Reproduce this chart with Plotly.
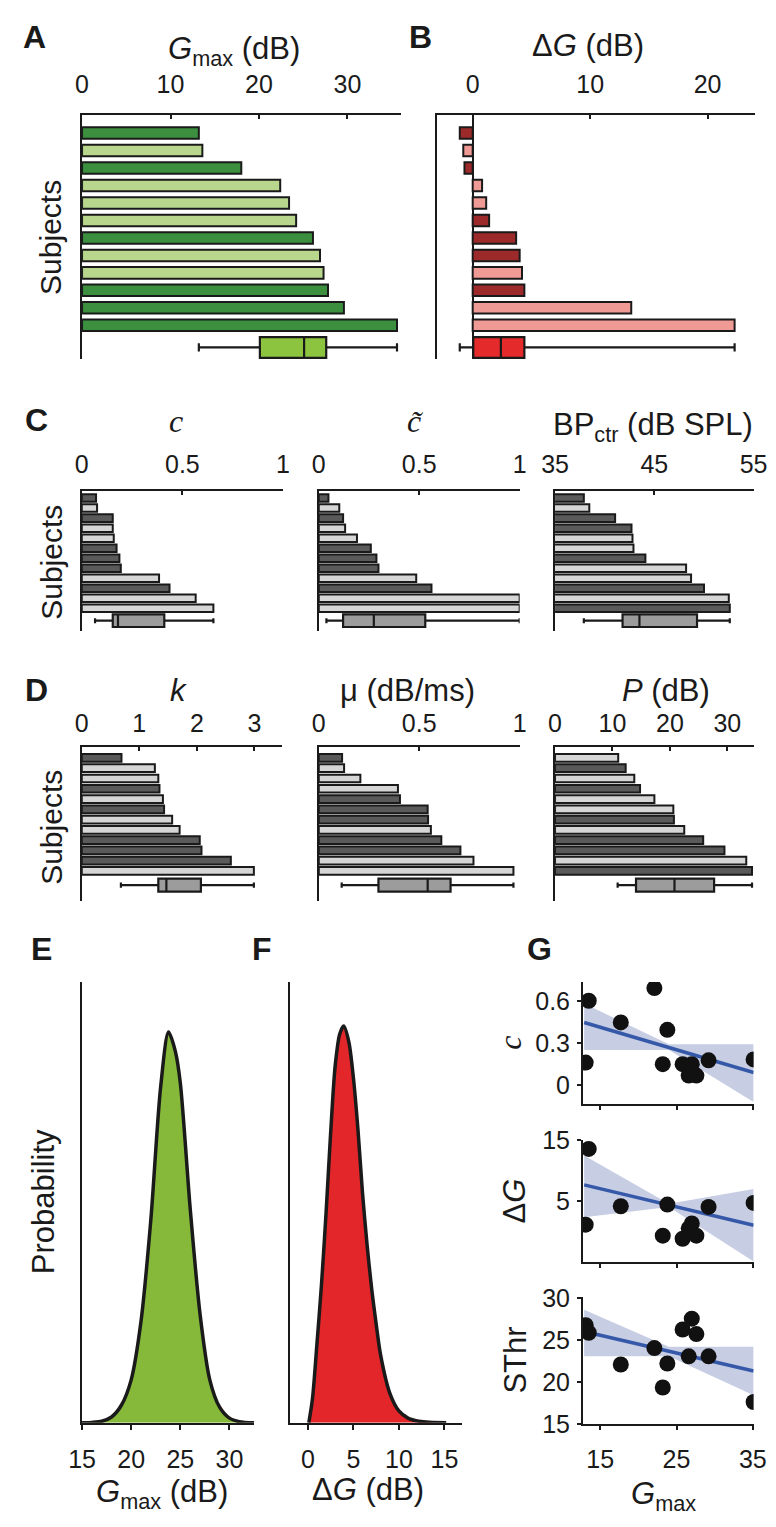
import plotly.graph_objects as go

W, H = 776, 1527

# ---------------- data ----------------
rows = list(range(1, 13))

# A: Gmax (dB) per subject, 1 = dark bar
gmax = [13.2, 13.6, 18.0, 22.4, 23.4, 24.2, 26.1, 26.9, 27.3, 27.8, 29.6, 35.6]
gmax_dark = [1, 0, 1, 0, 0, 0, 1, 0, 0, 1, 1, 1]
gmax_box = [13.2, 20.1, 25.1, 27.6, 35.6]   # lo, q1, median, q3, hi

# B: delta G (dB)
dg = [-1.1, -0.8, -0.7, 0.8, 1.15, 1.4, 3.7, 4.0, 4.2, 4.4, 13.5, 22.3]
dg_dark = [1, 0, 1, 0, 0, 1, 1, 1, 0, 1, 0, 0]
dg_box = [-1.1, 0.05, 2.4, 4.4, 22.3]

# C
c_vals = [0.071, 0.076, 0.154, 0.154, 0.159, 0.173, 0.187, 0.194, 0.384, 0.436, 0.566, 0.654]
c_dark = [1, 0, 1, 0, 0, 1, 1, 1, 0, 1, 0, 0]
c_box = [0.066, 0.154, 0.18, 0.41, 0.654]

ct_vals = [0.048, 0.102, 0.121, 0.131, 0.19, 0.259, 0.287, 0.297, 0.485, 0.561, 1.0, 1.0]
ct_dark = [1, 0, 1, 0, 0, 1, 1, 1, 0, 1, 0, 0]
ct_box = [0.038, 0.121, 0.274, 0.53, 1.0]

bp_vals = [37.9, 38.45, 41.05, 42.7, 42.8, 42.9, 44.1, 48.2, 48.7, 50.0, 52.5, 52.6]
bp_dark = [1, 0, 1, 1, 0, 0, 1, 0, 0, 1, 0, 1]
bp_box = [37.9, 41.8, 43.5, 49.3, 52.6]

# D
k_vals = [0.69, 1.27, 1.33, 1.35, 1.41, 1.43, 1.57, 1.70, 2.05, 2.08, 2.59, 2.99]
k_dark = [1, 0, 0, 1, 0, 1, 0, 0, 1, 1, 1, 0]
k_box = [0.68, 1.33, 1.47, 2.07, 2.99]

mu_vals = [0.116, 0.126, 0.207, 0.394, 0.404, 0.542, 0.544, 0.558, 0.61, 0.705, 0.77, 0.969]
mu_dark = [1, 0, 0, 0, 1, 1, 1, 0, 1, 1, 0, 0]
mu_box = [0.114, 0.297, 0.542, 0.656, 0.969]

p_vals = [11.0, 12.3, 13.8, 14.8, 17.3, 20.6, 20.7, 22.5, 25.8, 29.5, 33.3, 34.3]
p_dark = [0, 1, 0, 1, 0, 0, 1, 0, 1, 1, 0, 1]
p_box = [10.9, 14.1, 20.8, 27.7, 34.3]

# E / F: posterior curves (relative probability)
e_x = [15, 16, 17, 18, 19, 20, 21, 22, 23, 23.8, 24.5, 25, 26, 27, 28, 29, 30, 31, 32.5]
e_y = [0.0, 0.001, 0.004, 0.015, 0.045, 0.11, 0.26, 0.52, 0.86, 1.0, 0.95, 0.87, 0.55, 0.28,
       0.11, 0.04, 0.012, 0.003, 0.0]
f_x = [0.1, 0.5, 1.0, 1.5, 2.0, 2.5, 3.0, 3.5, 3.94, 4.5, 5.0, 5.5, 6.0, 6.5, 7.0, 7.5, 8.0,
       9.0, 10.0, 11.0, 12.0, 13.0, 15.2]
f_y = [0.0, 0.06, 0.2, 0.35, 0.53, 0.73, 0.9, 0.98, 1.0, 0.96, 0.87, 0.74, 0.58, 0.45, 0.34,
       0.25, 0.17, 0.075, 0.03, 0.012, 0.005, 0.002, 0.0]

# G: correlations against Gmax
g_x = [13.1, 13.5, 17.7, 22.1, 23.2, 23.8, 25.8, 26.6, 27.0, 27.6, 29.2, 35.1]
g_c = [0.16, 0.60, 0.446, 0.69, 0.149, 0.393, 0.149, 0.068, 0.149, 0.068, 0.176, 0.183]
g_dg = [1.2, 13.56, 4.2, 22.3, -0.6, 4.47, -1.1, 0.6, 1.4, -0.6, 4.1, 4.74]
g_sthr = [26.76, 25.86, 22.07, 24.03, 19.33, 22.19, 26.25, 23.05, 27.54, 25.7, 23.05, 17.6]

fit_x = [12.9, 35.1]
fit_c = [0.445, 0.09]
fit_dg = [7.7, 1.1]
fit_sthr = [26.0, 21.3]

band_x = [12.9, 24.0, 35.1]
band_c_lo = [0.25, 0.25, -0.12]
band_c_hi = [0.58, 0.29, 0.29]
band_dg_lo = [2.4, 4.1, -4.8]
band_dg_hi = [12.5, 4.6, 7.0]
band_sthr_lo = [23.05, 23.05, 18.4]
band_sthr_hi = [28.6, 24.2, 24.2]

# ---------------- styling ----------------
INK = "#1a1a1a"
SANS = "Liberation Sans, Arial, Helvetica, sans-serif"
SERIF = "Liberation Serif, DejaVu Serif, serif"
TICKF = dict(family=SANS, size=25, color=INK)


def dom_x(a, b):
    return [a / W, b / W]


def dom_y(top, bottom):
    return [1 - bottom / H, 1 - top / H]


fig = go.Figure()
axes = {}


def bar_panel(n, vals, dark, box, cols, xdom, ydom, xrng, yrng, tv, tt,
              bar_w, box_row, box_w, zero=False, standoff=6):
    xa, ya = f"x{n}", f"y{n}"
    fig.add_trace(go.Bar(
        x=vals, y=rows, orientation="h", width=bar_w,
        marker=dict(color=[cols[0] if d else cols[1] for d in dark],
                    line=dict(color=INK, width=2)),
        xaxis=xa, yaxis=ya, hoverinfo="skip", showlegend=False))
    fig.add_trace(go.Box(
        y=[box_row], lowerfence=[box[0]], q1=[box[1]], median=[box[2]],
        q3=[box[3]], upperfence=[box[4]], orientation="h", width=box_w,
        whiskerwidth=0.4, fillcolor=cols[2], line=dict(color=INK, width=2.2),
        boxpoints=False, xaxis=xa, yaxis=ya, hoverinfo="skip", showlegend=False))
    axes[f"xaxis{n}"] = dict(
        domain=dom_x(*xdom), range=xrng, side="top", anchor=ya,
        showline=True, linecolor=INK, linewidth=2, ticks="inside", ticklen=4,
        tickcolor=INK, tickwidth=1.5, tickvals=tv, ticktext=tt, tickfont=TICKF,
        showgrid=False, zeroline=zero, zerolinecolor=INK, zerolinewidth=2,
        ticklabelstandoff=standoff)
    axes[f"yaxis{n}"] = dict(
        domain=dom_y(*ydom), range=yrng, anchor=xa, showline=True,
        linecolor=INK, linewidth=2, showticklabels=False, ticks="",
        showgrid=False, zeroline=False)


green = ("#3b8f3f", "#b8d78c", "#8cc43f")
red = ("#9c2a2a", "#f09a95", "#e42a2a")
grey = ("#5a5a5a", "#d6d6d6", "#9c9c9c")

# A, B
bar_panel(1, gmax, gmax_dark, gmax_box, green, (62.3, 392.7), (95, 343.3),
          [0, 36.0], [13.93, -0.02], [0, 10, 20, 30], ["0", "10", "20", "30"],
          0.66, 13.27, 1.18, standoff=10)
bar_panel(2, dg, dg_dark, dg_box, red, (431, 760), (95, 343.3),
          [-3.0, 24.0], [13.93, -0.02], [0, 10, 20], ["0", "10", "20"],
          0.66, 13.27, 1.18, zero=True, standoff=10)

# C
cy = (477.3, 620)
cr = [14.24, 0.245]
bar_panel(3, c_vals, c_dark, c_box, grey, (62, 270.8), cy, [0, 1], cr,
          [0, 0.5, 1], ["0", "0.5", "1"], 0.75, 13.25, 1.25)
bar_panel(4, ct_vals, ct_dark, ct_box, grey, (307.9, 516.3), cy, [0, 1], cr,
          [0, 0.5, 1], ["0", "0.5", "1"], 0.75, 13.25, 1.25)
bar_panel(5, bp_vals, bp_dark, bp_box, grey, (553, 759), cy, [35, 55], cr,
          [35, 45, 55], ["35", "45", "55"], 0.75, 13.25, 1.25)

# D
dy = (738.3, 895)
dr = [14.89, -0.09]
bar_panel(6, k_vals, k_dark, k_box, grey, (62, 269.8), dy, [0, 3.48], dr,
          [0, 1, 2, 3], ["0", "1", "2", "3"], 0.75, 13.39, 1.27, standoff=3)
bar_panel(7, mu_vals, mu_dark, mu_box, grey, (307.9, 516.3), dy, [0, 1], dr,
          [0, 0.5, 1], ["0", "0.5", "1"], 0.75, 13.39, 1.27, standoff=3)
bar_panel(8, p_vals, p_dark, p_box, grey, (553, 759.9), dy, [0, 34.73], dr,
          [0, 10, 20, 30], ["0", "10", "20", "30"], 0.75, 13.39, 1.27, standoff=3)


# E, F
def density_panel(n, xs, ys, fill, xdom, xrng, yrng, tv):
    xa, ya = f"x{n}", f"y{n}"
    fig.add_trace(go.Scatter(
        x=xs, y=ys, mode="lines", fill="tozeroy", fillcolor=fill,
        line=dict(color=INK, width=3.5, shape="spline", smoothing=0.8),
        xaxis=xa, yaxis=ya, hoverinfo="skip", showlegend=False))
    axes[f"xaxis{n}"] = dict(
        domain=dom_x(*xdom), range=xrng, anchor=ya, showline=True,
        linecolor=INK, linewidth=2, ticks="outside", ticklen=5, tickwidth=1.5,
        tickcolor=INK, tickvals=tv, tickfont=TICKF, showgrid=False,
        zeroline=False, ticklabelstandoff=8)
    axes[f"yaxis{n}"] = dict(
        domain=dom_y(978, 1427), range=yrng, anchor=xa, showline=True,
        linecolor=INK, linewidth=2, showticklabels=False, ticks="",
        showgrid=False, zeroline=False)


density_panel(9, e_x, e_y, "#86b93a", (62.3, 240.7), [15, 32.5], [0, 1.128],
              [15, 20, 25, 30])
density_panel(10, f_x, f_y, "#e2262a", (277.7, 456.7), [-2.0, 16.96], [0, 1.111],
              [0, 5, 10, 15])


# G
def corr_panel(n, ys, fit, lo, hi, ydom, yrng, ytv, ytt, last):
    xa, ya = f"x{n}", f"y{n}"
    fig.add_trace(go.Scatter(x=band_x, y=lo, mode="lines", line=dict(width=0),
                             xaxis=xa, yaxis=ya, hoverinfo="skip", showlegend=False))
    fig.add_trace(go.Scatter(x=band_x, y=hi, mode="lines", line=dict(width=0),
                             fill="tonexty", fillcolor="#c7cee4",
                             xaxis=xa, yaxis=ya, hoverinfo="skip", showlegend=False))
    fig.add_trace(go.Scatter(x=fit_x, y=fit, mode="lines",
                             line=dict(color="#3559a8", width=3.5),
                             xaxis=xa, yaxis=ya, hoverinfo="skip", showlegend=False))
    fig.add_trace(go.Scatter(x=g_x, y=ys, mode="markers",
                             marker=dict(color="#111111", size=16),
                             xaxis=xa, yaxis=ya, hoverinfo="skip", showlegend=False))
    axes[f"xaxis{n}"] = dict(
        domain=dom_x(582, 759), range=[12.75, 35.1], anchor=ya, showline=True,
        linecolor=INK, linewidth=2, ticks="outside", ticklen=4, tickwidth=1.5,
        tickcolor=INK, tickvals=[15, 25, 35], showticklabels=last,
        tickfont=dict(family=SANS, size=25, color=INK), showgrid=False,
        zeroline=False, ticklabelstandoff=8)
    axes[f"yaxis{n}"] = dict(
        domain=dom_y(*ydom), range=yrng, anchor=xa, showline=True,
        linecolor=INK, linewidth=2, ticks="outside", ticklen=4, tickwidth=1.5,
        tickcolor=INK, tickvals=ytv, ticktext=ytt, tickfont=TICKF,
        showgrid=False, zeroline=False, ticklabelstandoff=2)


corr_panel(11, g_c, fit_c, band_c_lo, band_c_hi, (978, 1102), [-0.133, 0.733],
           [0, 0.3, 0.6], ["0", "0.3", "0.6"], False)
corr_panel(12, g_dg, fit_dg, band_dg_lo, band_dg_hi, (1139, 1263), [-4.87, 15.0],
           [-5, 5, 15], ["-5", "5", "15"], False)
corr_panel(13, g_sthr, fit_sthr, band_sthr_lo, band_sthr_hi, (1299, 1428),
           [15.0, 30.1], [15, 20, 25, 30], ["15", "20", "25", "30"], True)

# ---------------- text ----------------
ann = []


def txt(x, y, s, size=31, family=SANS, angle=0, bold=False):
    if bold:
        s = f"<b>{s}</b>"
    ann.append(dict(x=x / W, y=1 - y / H, xref="paper", yref="paper", text=s,
                    showarrow=False, textangle=angle, xanchor="center",
                    yanchor="middle", font=dict(family=family, size=size, color=INK)))


for lab, (x, y) in {"A": (13, 15), "B": (413, 15), "C": (15, 405), "D": (15, 680),
                    "E": (20, 944), "F": (249, 944), "G": (537, 944)}.items():
    txt(x, y, lab, size=32, bold=True)

txt(220, 30, "<i>G</i><sub>max</sub> (dB)")
txt(587, 24, "Δ<i>G</i> (dB)")
txt(160, 406, "<i>c</i>", size=32, family=SERIF)
txt(408, 406, "<i>c\u0303</i>", size=32, family=SERIF)
txt(655, 413, "BP<sub>ctr</sub> (dB SPL)")
txt(162, 681, "<i>k</i>")
txt(400, 681, "μ (dB/ms)")
txt(668, 681, "<i>P</i> (dB)")

txt(30, 219, "Subjects", size=30, angle=-90)
txt(31, 550, "Subjects", size=30, angle=-90)
txt(31, 820, "Subjects", size=30, angle=-90)
txt(23, 1202, "Probability", size=31, angle=-90)

txt(145, 1500, "<i>G</i><sub>max</sub> (dB)")
txt(359, 1495, "Δ<i>G</i> (dB)")
txt(665, 1502, "<i>G</i><sub>max</sub>")
txt(506, 1040, "<i>c</i>", size=32, family=SERIF, angle=-90)
txt(511, 1201, "Δ<i>G</i>", angle=-90)
txt(511, 1363, "SThr", angle=-90)

fig.update_layout(
    width=W, height=H, margin=dict(l=0, r=0, t=0, b=0),
    paper_bgcolor="white", plot_bgcolor="white", showlegend=False,
    boxmode="overlay", annotations=ann, **axes)

fig.write_html("out.html")
